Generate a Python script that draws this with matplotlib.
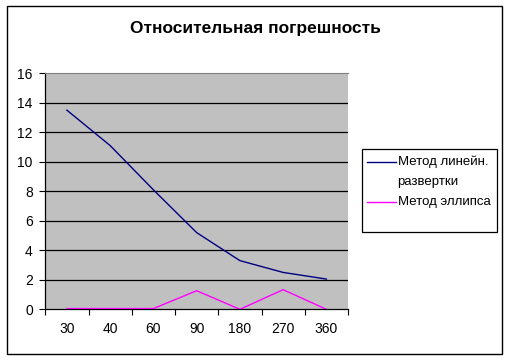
import matplotlib
matplotlib.use("Agg")
import matplotlib.pyplot as plt
from matplotlib.patches import Rectangle
from matplotlib.lines import Line2D
import numpy as np

categories = ["30", "40", "60", "90", "180", "270", "360"]
linear_scan = [13.5, 11.1, 8.1, 5.2, 3.3, 2.5, 2.05]
ellipse = [0.05, 0.05, 0.05, 1.26, 0.0, 1.33, 0.0]
series_names = ["Метод линейн.\nразвертки", "Метод эллипса"]
series_colors = ["#000080", "#ff00ff"]
title = "Относительная погрешность"

plt.rcParams['font.family'] = ['Liberation Sans', 'DejaVu Sans']

W, H = 509, 360
fig = plt.figure(figsize=(W / 100, H / 100), dpi=100)
fig.patch.set_facecolor("white")

def fx(px):
    return px / W

def fy(py):
    return (H - py) / H

# outer chart border
fig.add_artist(Rectangle((fx(7), fy(354)), 495 / W, 348 / H, transform=fig.transFigure,
                         fill=False, edgecolor="black", linewidth=1.0))

left, right, top, bottom = 45.3, 348, 73.3, 309.3
ax = fig.add_axes([fx(left), fy(bottom), (right - left) / W, (bottom - top) / H])
ax.set_facecolor("#c0c0c0")

x = np.arange(len(categories))
for vals, name, col in zip([linear_scan, ellipse], series_names, series_colors):
    ax.plot(x, vals, color=col, linewidth=1.0, label=name, zorder=3)

ax.set_xlim(-0.5, len(categories) - 0.5)
ax.set_ylim(0, 16)
ax.set_yticks(np.arange(0, 17, 2))
for yv in np.arange(2, 16, 2):
    ax.axhline(yv, color="black", linewidth=0.9, zorder=1)

ax.set_xticks(np.arange(-0.5, len(categories), 1.0))
ax.set_xticklabels([])
ax.set_xticks(x, minor=True)
ax.set_xticklabels(categories, minor=True)
ax.tick_params(axis="x", which="minor", length=0, pad=9, labelsize=10)
ax.tick_params(axis="x", which="major", length=4, direction="out", width=0.8)
ax.tick_params(axis="y", length=4, direction="out", width=0.8, labelsize=10, pad=5)

ax.spines["right"].set_visible(False)
ax.spines["top"].set_color("#808080")
ax.spines["top"].set_linewidth(0.8)
for s in ["left", "bottom"]:
    ax.spines[s].set_color("black")
    ax.spines[s].set_linewidth(0.9)

fig.text(fx(255), fy(28), title, ha="center", va="center",
         fontsize=12.5, fontweight="bold")

# legend (Excel style)
fig.add_artist(Rectangle((fx(362), fy(232)), 135 / W, 83 / H, transform=fig.transFigure,
                         fill=True, facecolor="white", edgecolor="black", linewidth=0.9))
entry_y = [162, 202]
for name, col, ey in zip(series_names, series_colors, entry_y):
    fig.add_artist(Line2D([fx(367), fx(396)], [fy(ey), fy(ey)], transform=fig.transFigure,
                          color=col, linewidth=1.0))
    for i, line in enumerate(name.split("\n")):
        fig.text(fx(397.5), fy(ey + 20 * i), line, ha="left", va="center", fontsize=9.5)

fig.savefig("out.png", dpi=100)
